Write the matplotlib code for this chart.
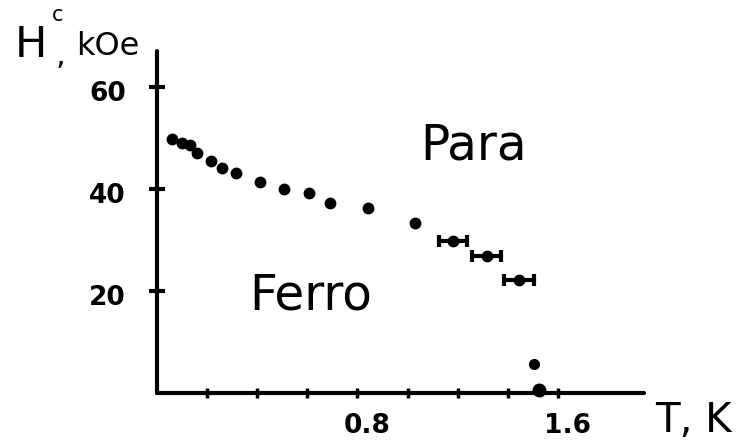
import matplotlib
matplotlib.use('Agg')
import matplotlib.pyplot as plt
from matplotlib.transforms import ScaledTranslation

# phase boundary H_c(T)
T_dots = [0.06, 0.10, 0.13, 0.16, 0.215, 0.26, 0.315, 0.41, 0.505, 0.605, 0.69, 0.84, 1.03]
H_dots = [49.8, 49.0, 48.6, 47.0, 45.5, 44.2, 43.1, 41.4, 40.0, 39.2, 37.2, 36.2, 33.4]
T_bars = [1.18, 1.315, 1.445]
H_bars = [29.9, 26.9, 22.2]
T_bars_err = [0.056, 0.057, 0.06]
T_low = [1.505, 1.525]
H_low = [5.7, 0.5]

x_ticks = [0.2, 0.4, 0.6, 0.8, 1.0, 1.2, 1.4, 1.6]
x_tick_labels = ['', '', '', '0.8', '', '', '', '1.6']
y_ticks = [20, 40, 60]
y_tick_labels = ['20', '40', '60']

fig = plt.figure(figsize=(7.4, 4.41), dpi=100)
W, H = 740, 441
x0, x1 = 157, 644
y0, y1 = 393, 51
ax = fig.add_axes([x0 / W, 1 - y0 / H, (x1 - x0) / W, (y0 - y1) / H])
ax.set_xlim(0, (x1 - x0) / 250.6)
ax.set_ylim(0, (y0 - y1) / 5.1)

ax.plot(T_dots, H_dots, 'o', color='black', markersize=7.5, clip_on=False)
ax.errorbar(T_bars, H_bars, xerr=T_bars_err, fmt='o', color='black',
            markersize=7.5, elinewidth=3, capsize=4, capthick=3)
ax.plot(T_low[:1], H_low[:1], 'o', color='black', markersize=7, clip_on=False)
ax.plot(T_low[1:], H_low[1:], 'o', color='black', markersize=9, clip_on=False)

for side in ['top', 'right']:
    ax.spines[side].set_visible(False)
for side in ['left', 'bottom']:
    ax.spines[side].set_linewidth(3)
    ax.spines[side].set_capstyle('round')

ax.set_xticks(x_ticks)
ax.set_xticklabels(x_tick_labels)
ax.set_yticks(y_ticks)
ax.set_yticklabels(y_tick_labels)
ax.tick_params(axis='x', direction='inout', length=7, width=2.5, pad=11, labelsize=19)
ax.tick_params(axis='y', direction='inout', length=11, width=3, pad=17, labelsize=19)
for lab in ax.get_xticklabels():
    lab.set_transform(lab.get_transform() + ScaledTranslation(0.1, 0, fig.dpi_scale_trans))
    lab.set_fontweight('bold')
for lab in ax.get_yticklabels():
    lab.set_transform(lab.get_transform() + ScaledTranslation(0, -0.04, fig.dpi_scale_trans))
    lab.set_fontweight('bold')

ax.text(1.05, 45.7, 'Para', fontsize=35)
ax.text(0.37, 16.3, 'Ferro', fontsize=35)

fig.text(655 / W, 1 - 432 / H, 'T, K', fontsize=29)
fig.text(15 / W, 1 - 57 / H, 'H', fontsize=31)
fig.text(52 / W, 1 - 21 / H, 'c', fontsize=15)
fig.text(56 / W, 1 - 64 / H, ',', fontsize=22)
fig.text(76 / W, 1 - 55 / H, 'kOe', fontsize=23)

fig.savefig('out.png', dpi=100)
